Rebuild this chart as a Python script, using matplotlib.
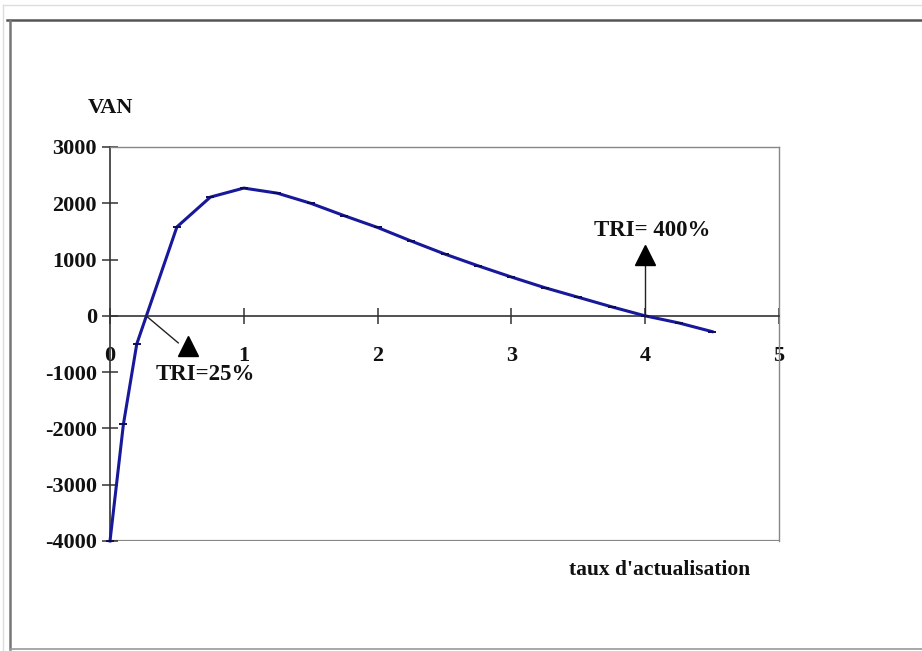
import matplotlib
matplotlib.use("Agg")
import matplotlib.pyplot as plt
from matplotlib.lines import Line2D

# Data
taux = [0, 0.1, 0.2, 0.5, 0.75, 1.0, 1.25, 1.5, 1.75, 2.0, 2.25, 2.5,
        2.75, 3.0, 3.25, 3.5, 3.75, 4.0, 4.25, 4.5]
van = [-4000, -1930, -500, 1580, 2110, 2270, 2180, 2000, 1780, 1570, 1330,
       1100, 890, 690, 500, 330, 160, 0, -125, -280]
x_ticks = [0, 1, 2, 3, 4, 5]
y_ticks = [3000, 2000, 1000, 0, -1000, -2000, -3000, -4000]
tri_low = 0.27
tri_high = 4.0

W, H = 922, 651
fig = plt.figure(figsize=(W / 100, H / 100), dpi=100)
fig.patch.set_facecolor("white")

# decorative outer frames
def fl(x0, y0, x1, y1, color, lw):
    fig.add_artist(Line2D([x0 / W, x1 / W], [1 - y0 / H, 1 - y1 / H],
                          color=color, lw=lw, transform=fig.transFigure))
fl(3, 5, 922, 5, "#dddddd", 1.0)
fl(3, 5, 3, 651, "#dddddd", 1.0)
fl(7, 20, 922, 20, "#555555", 1.8)
fl(10, 20, 10, 649, "#777777", 1.8)
fl(10, 649, 922, 649, "#999999", 1.2)

serif = dict(family="Liberation Serif", weight="bold", color="#111111")

left, right, top, bottom = 110, 779, 147, 541
ax = fig.add_axes([left / W, 1 - bottom / H, (right - left) / W, (bottom - top) / H])
ax.set_xlim(0, 5)
ax.set_ylim(-4000, 3000)

for s in ["top", "right"]:
    ax.spines[s].set_color("#888888")
    ax.spines[s].set_linewidth(1.0)
ax.spines["left"].set_color("#333333")
ax.spines["left"].set_linewidth(1.2)
ax.spines["bottom"].set_position(("data", 0))
ax.spines["bottom"].set_color("#333333")
ax.spines["bottom"].set_linewidth(1.2)
ax.axhline(-4000, color="#888888", lw=1.6, zorder=1)

ax.set_xticks(x_ticks)
ax.set_yticks(y_ticks)
ax.set_xticklabels([str(v) for v in x_ticks], fontdict=dict(size=16, **serif))
ax.set_yticklabels([str(v) for v in y_ticks], fontdict=dict(size=16, **serif))
ax.tick_params(axis="x", direction="inout", length=11, width=1.1, color="#333333", pad=16)
ax.tick_params(axis="y", direction="inout", length=11, width=1.1, color="#333333", pad=4)

ax.plot(taux, van, color="#18189a", lw=2.2, marker="_", ms=6, mew=1.4,
        mec="#0c0c5c", zorder=3, clip_on=False)

# TRI annotations
ax.plot([tri_low, 0.51], [0, -480], color="#222222", lw=1.0, zorder=4)
ax.plot([0.583], [-533], marker="^", ms=15, color="black", zorder=4)
ax.text(0.71, -1050, "TRI=25%", ha="center", va="center", size=16.5, **serif)

ax.plot([tri_high, tri_high], [0, 920], color="#222222", lw=1.0, zorder=4)
ax.plot([tri_high], [1083], marker="^", ms=15, color="black", zorder=4)
ax.text(4.05, 1510, "TRI= 400%", ha="center", va="center", size=16.5, **serif)

fig.text(110 / W, 1 - 108 / H, "VAN", ha="center", va="center", size=16, **serif)
fig.text(660 / W, 1 - 570 / H, "taux d'actualisation", ha="center", va="center",
         size=15.5, **serif)

fig.savefig("out.png", dpi=100)
